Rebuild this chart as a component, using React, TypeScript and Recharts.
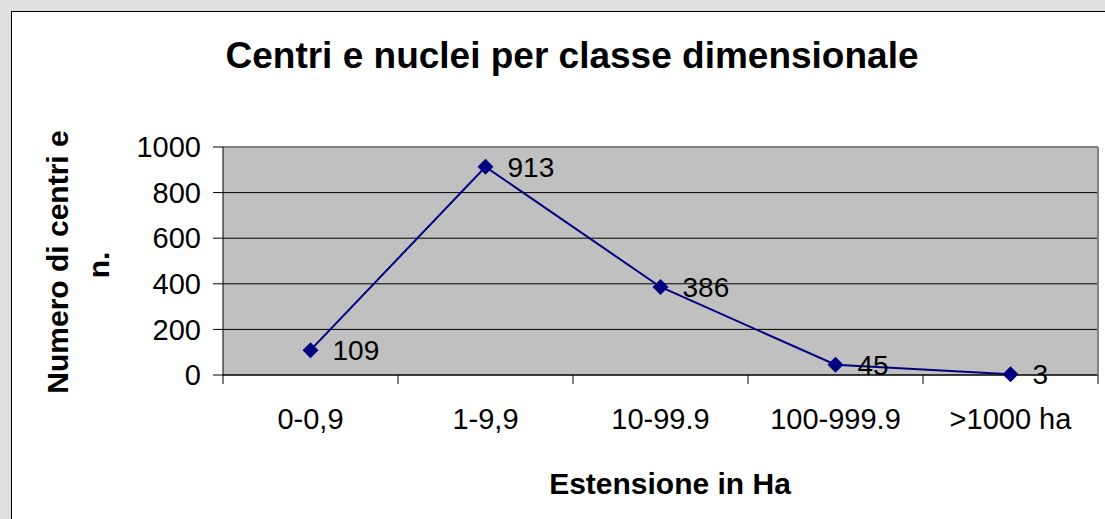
import { LineChart, Line, XAxis, YAxis, CartesianGrid, LabelList, ReferenceLine } from 'recharts';

const categories = ['0-0,9', '1-9,9', '10-99.9', '100-999.9', '>1000 ha'];
const centri = [109, 913, 386, 45, 3];
const yTicks = [0, 200, 400, 600, 800, 1000];

const data = categories.map((c, i) => ({ classe: c, centri: centri[i] }));

const FONT = '"Liberation Sans", Arial, sans-serif';
const PLOT_W = 875;
const HALF = PLOT_W / categories.length / 2;
const LABEL_GAP = 33;

function Diamond(props: any) {
  const { cx, cy } = props;
  if (cx == null || cy == null) return null;
  const s = 8;
  return <path d={`M${cx},${cy - s}L${cx + s},${cy}L${cx},${cy + s}L${cx - s},${cy}Z`} fill="#000080" />;
}

// category label at the centre, tick marks on the class boundaries (like Excel)
function ClassTick(props: any) {
  const { x, y, payload, index } = props;
  const axisY = y - LABEL_GAP;
  return (
    <g>
      <line x1={x - HALF} x2={x - HALF} y1={axisY} y2={axisY + 9} stroke="#000" />
      {index === categories.length - 1 && <line x1={x + HALF} x2={x + HALF} y1={axisY} y2={axisY + 9} stroke="#000" />}
      <text x={x} y={y} dy="0.71em" textAnchor="middle" fontSize={29} fill="#000" fontFamily={FONT}>
        {payload.value}
      </text>
    </g>
  );
}

export default function App() {
  return (
    <div style={{ position: 'absolute', left: 0, top: 0, width: 1105, height: 519, background: '#e0e0e0', overflow: 'hidden', fontFamily: FONT }}>
      <div style={{ position: 'absolute', left: 11, top: 11, width: 1105, height: 519, background: '#fff', borderLeft: '1px solid #000', borderTop: '1px solid #000' }} />
      <div style={{ position: 'absolute', left: 0, top: 0 }}>
        <LineChart width={1105} height={519} data={data} margin={{ top: 147, right: 6, bottom: 0, left: 0 }} style={{ fontFamily: FONT }}>
          <CartesianGrid vertical={false} fill="#c0c0c0" fillOpacity={1} stroke="#000" />
          <XAxis
            dataKey="classe"
            padding={{ left: HALF, right: HALF }}
            axisLine={{ stroke: '#000' }}
            tickLine={false}
            tickSize={0}
            tickMargin={LABEL_GAP}
            height={144}
            interval={0}
            tick={<ClassTick />}
          />
          <YAxis
            domain={[0, 1000]}
            ticks={yTicks}
            interval={0}
            width={223}
            tickSize={10}
            tickMargin={12}
            axisLine={{ stroke: '#000' }}
            tickLine={{ stroke: '#000' }}
            tick={{ fill: '#000', fontSize: 29 }}
          />
          <YAxis
            yAxisId="frame"
            orientation="right"
            domain={[0, 1000]}
            width={1}
            tick={false}
            tickLine={false}
            axisLine={{ stroke: '#808080', strokeWidth: 2 }}
          />
          <ReferenceLine y={1000} stroke="#808080" strokeWidth={2} />
          <Line
            dataKey="centri"
            stroke="#000080"
            strokeWidth={2}
            dot={<Diamond />}
            activeDot={false}
            isAnimationActive={false}
          >
            <LabelList dataKey="centri" position="right" offset={22} fontSize={28} fill="#000" />
          </Line>
        </LineChart>
      </div>
      <svg width={1105} height={519} style={{ position: 'absolute', left: 0, top: 0, pointerEvents: 'none' }}>
        <g fontFamily={FONT} fontWeight="bold" fill="#000">
          <text x={572} y={68} fontSize={37} textAnchor="middle">Centri e nuclei per classe dimensionale</text>
          <text x={670} y={494} fontSize={30} textAnchor="middle">Estensione in Ha</text>
          <text x={68} y={262} fontSize={30} textAnchor="middle" transform="rotate(-90 68 262)">Numero di centri e</text>
          <text x={109} y={265} fontSize={30} textAnchor="middle" transform="rotate(-90 109 265)">n.</text>
        </g>
      </svg>
    </div>
  );
}
